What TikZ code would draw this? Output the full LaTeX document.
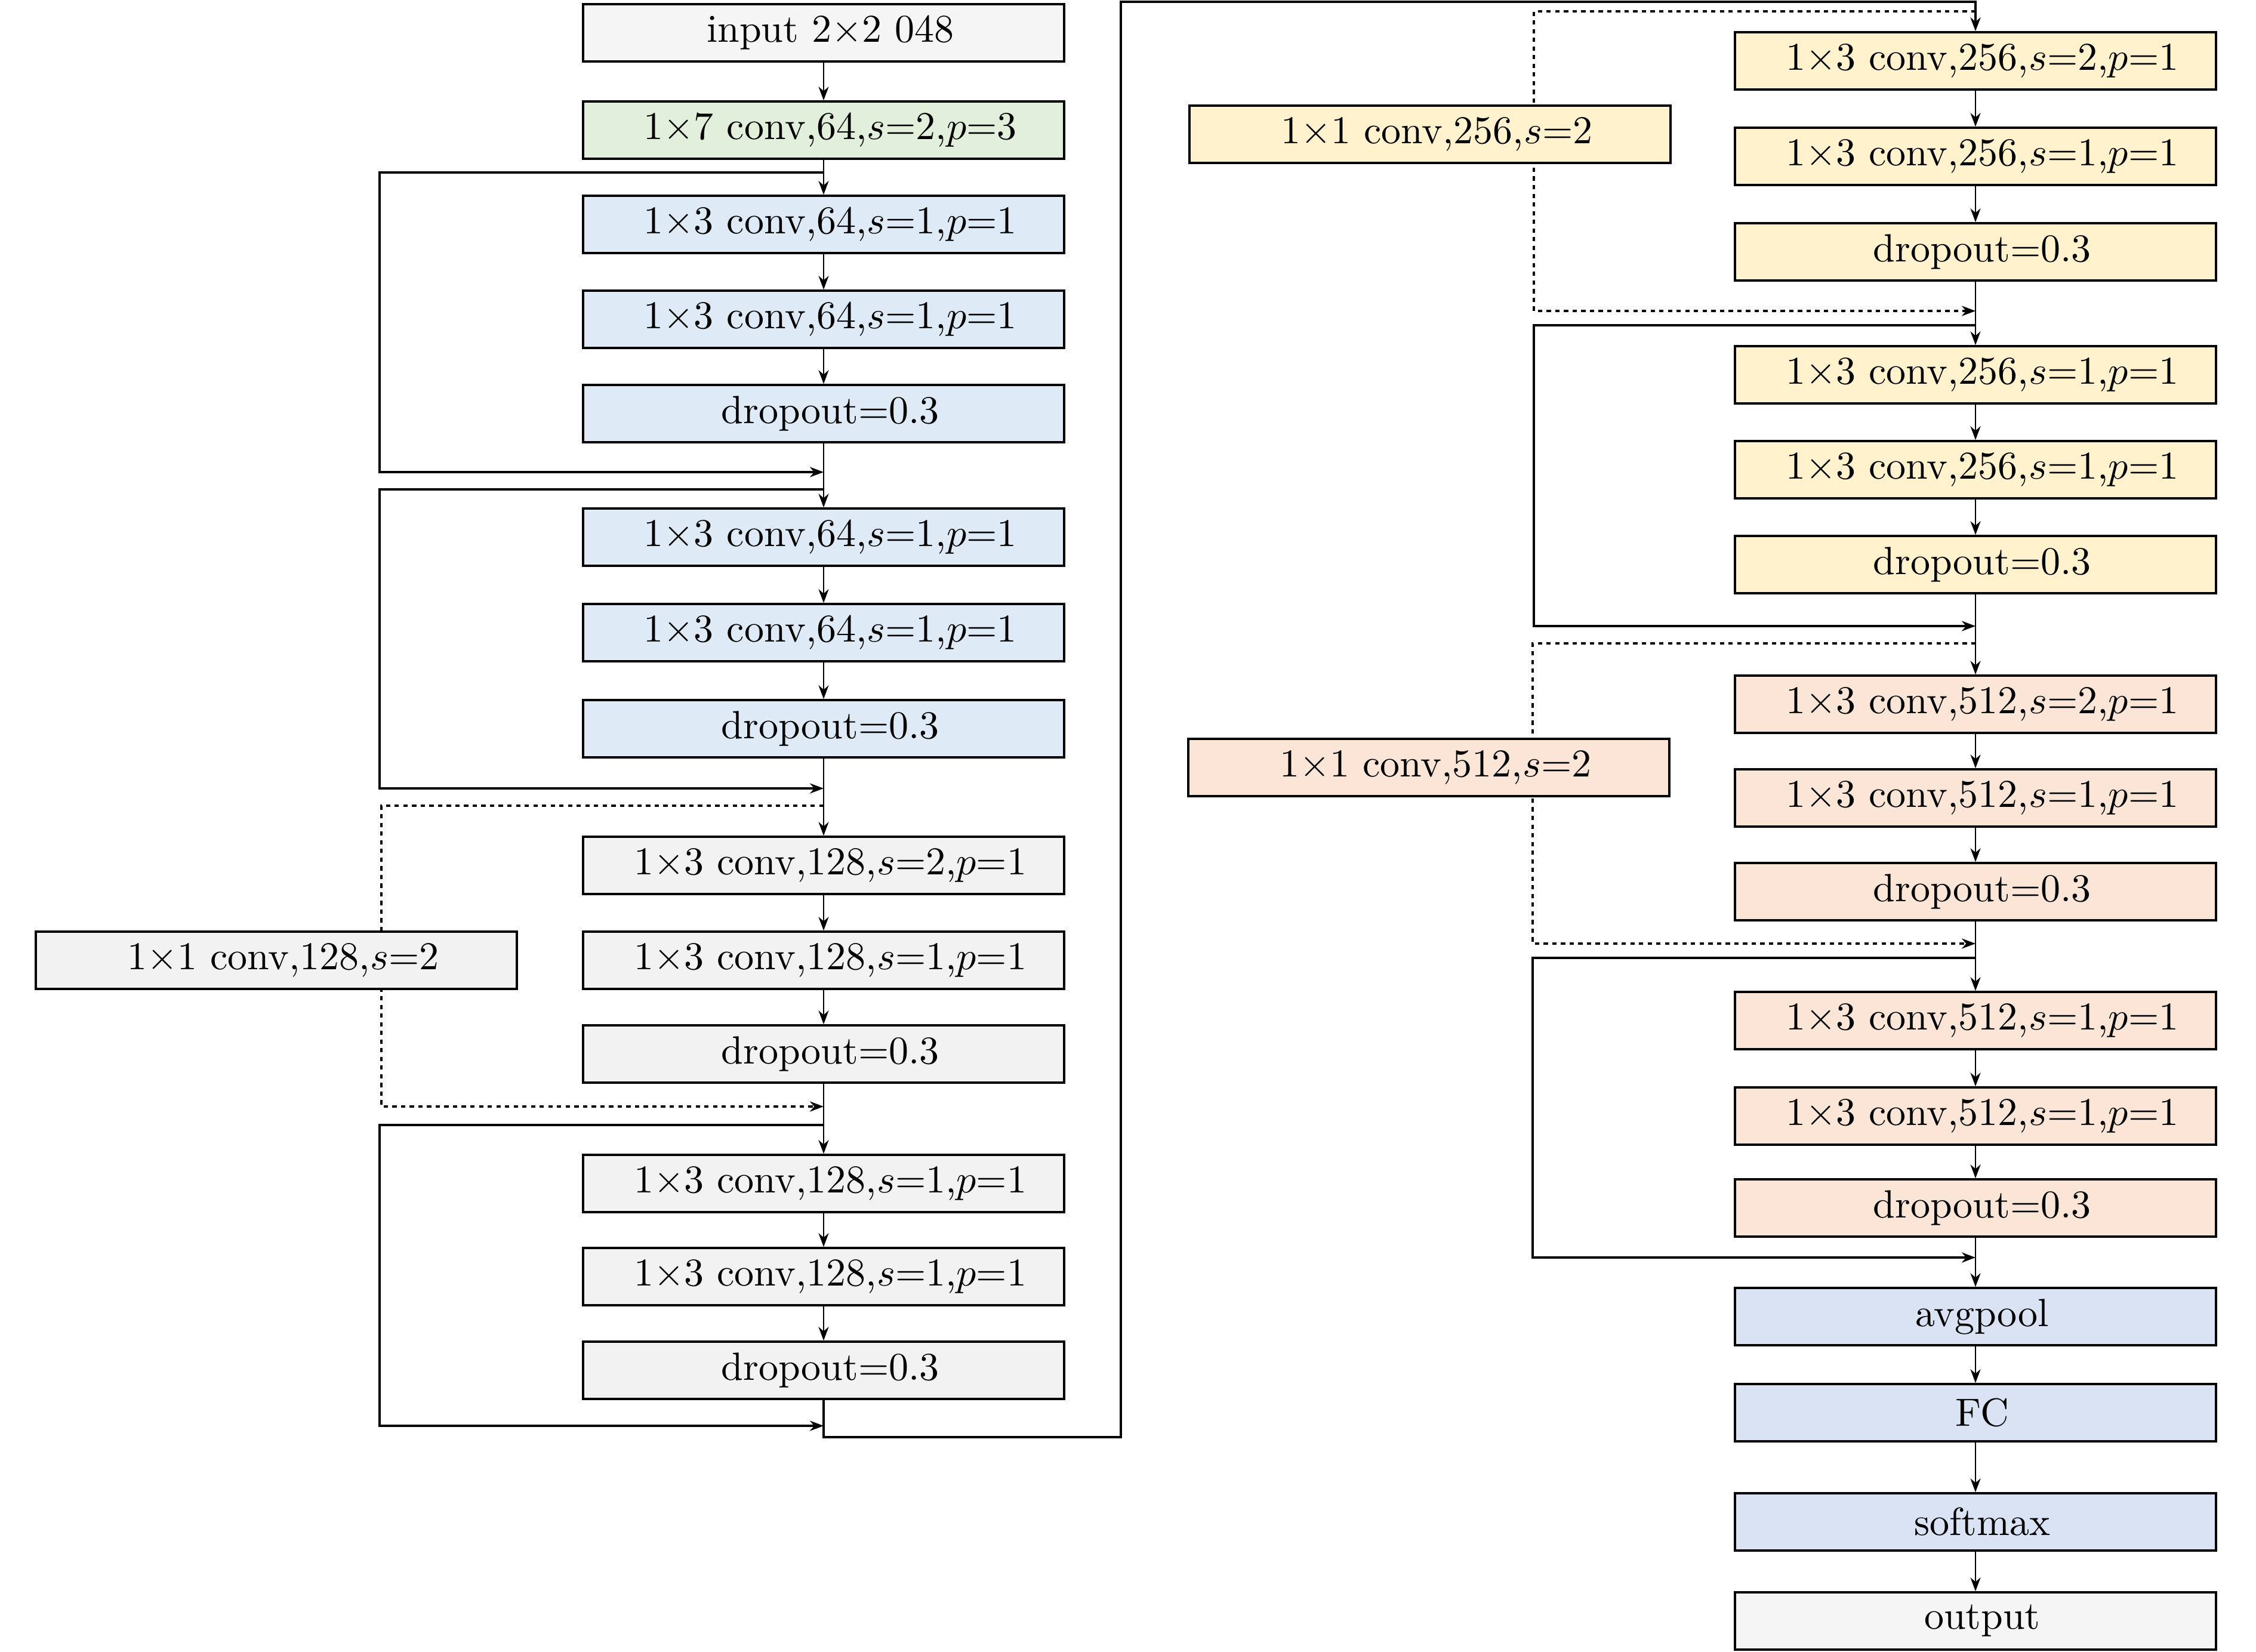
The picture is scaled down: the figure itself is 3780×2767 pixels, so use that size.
\documentclass[tikz,border=0pt]{standalone}
\usetikzlibrary{arrows.meta,backgrounds}
\definecolor{cin}{RGB}{245,245,245}
\definecolor{cgreen}{RGB}{226,239,218}
\definecolor{cblue}{RGB}{222,235,247}
\definecolor{cgray}{RGB}{242,242,242}
\definecolor{cyellow}{RGB}{255,242,204}
\definecolor{cpeach}{RGB}{251,229,214}
\definecolor{chead}{RGB}{218,227,243}
\begin{document}
\begin{tikzpicture}[x=0.1515pt,y=-0.1515pt,
  box/.style={draw=black, line width=0.6pt, minimum width=122.1pt, minimum height=14.5pt, inner sep=0pt,
              execute at begin node={\hspace*{3.4pt}}},
  tip/.style={-{Stealth[length=3.5pt,width=2.6pt]}},
  mainarr/.style={tip, line width=0.35pt},
  skipln/.style={tip, line width=0.5pt},
  shortln/.style={tip, line width=0.5pt, dash pattern=on 1.1pt off 1.1pt},
  linkln/.style={tip, line width=0.7pt}]
\useasboundingbox (0,0) rectangle (3780,2767);

% left column
\node[box,fill=cin] (in) at (1380,55) {input 2$\times$2 048};
\node[box,fill=cgreen] (c7) at (1380,218) {1$\times$7 conv,64,$s$=2,$p$=3};
\node[box,fill=cblue] (A1) at (1380,376) {1$\times$3 conv,64,$s$=1,$p$=1};
\node[box,fill=cblue] (A2) at (1380,535) {1$\times$3 conv,64,$s$=1,$p$=1};
\node[box,fill=cblue] (A3) at (1380,693) {dropout=0.3};
\node[box,fill=cblue] (B1) at (1380,900) {1$\times$3 conv,64,$s$=1,$p$=1};
\node[box,fill=cblue] (B2) at (1380,1060) {1$\times$3 conv,64,$s$=1,$p$=1};
\node[box,fill=cblue] (B3) at (1380,1221) {dropout=0.3};
\node[box,fill=cgray] (C1) at (1380,1450) {1$\times$3 conv,128,$s$=2,$p$=1};
\node[box,fill=cgray] (C2) at (1380,1609) {1$\times$3 conv,128,$s$=1,$p$=1};
\node[box,fill=cgray] (C3) at (1380,1766) {dropout=0.3};
\node[box,fill=cgray] (Cs) at (463,1609) {1$\times$1 conv,128,$s$=2};
\node[box,fill=cgray] (D1) at (1380,1983) {1$\times$3 conv,128,$s$=1,$p$=1};
\node[box,fill=cgray] (D2) at (1380,2139) {1$\times$3 conv,128,$s$=1,$p$=1};
\node[box,fill=cgray] (D3) at (1380,2296) {dropout=0.3};

% right column
\node[box,fill=cyellow] (E1) at (3310,102) {1$\times$3 conv,256,$s$=2,$p$=1};
\node[box,fill=cyellow] (E2) at (3310,262) {1$\times$3 conv,256,$s$=1,$p$=1};
\node[box,fill=cyellow] (E3) at (3310,422) {dropout=0.3};
\node[box,fill=cyellow] (Es) at (2396,225) {1$\times$1 conv,256,$s$=2};
\node[box,fill=cyellow] (F1) at (3310,628) {1$\times$3 conv,256,$s$=1,$p$=1};
\node[box,fill=cyellow] (F2) at (3310,787) {1$\times$3 conv,256,$s$=1,$p$=1};
\node[box,fill=cyellow] (F3) at (3310,946) {dropout=0.3};
\node[box,fill=cpeach] (G1) at (3310,1180) {1$\times$3 conv,512,$s$=2,$p$=1};
\node[box,fill=cpeach] (G2) at (3310,1337) {1$\times$3 conv,512,$s$=1,$p$=1};
\node[box,fill=cpeach] (G3) at (3310,1494) {dropout=0.3};
\node[box,fill=cpeach] (Gs) at (2394,1286) {1$\times$1 conv,512,$s$=2};
\node[box,fill=cpeach] (H1) at (3310,1710) {1$\times$3 conv,512,$s$=1,$p$=1};
\node[box,fill=cpeach] (H2) at (3310,1870) {1$\times$3 conv,512,$s$=1,$p$=1};
\node[box,fill=cpeach] (H3) at (3310,2024) {dropout=0.3};
\node[box,fill=chead] (avg) at (3310,2206) {avgpool};
\node[box,fill=chead] (fc) at (3310,2367) {FC};
\node[box,fill=chead] (sm) at (3310,2550) {softmax};
\node[box,fill=cin] (out) at (3310,2716) {output};

% junction points
\coordinate (s1) at (1380,289);  \coordinate (m1) at (1380,791);
\coordinate (s2) at (1380,820);  \coordinate (m2) at (1380,1321);
\coordinate (s3) at (1380,1350); \coordinate (m3) at (1380,1854);
\coordinate (s4) at (1380,1885); \coordinate (m4) at (1380,2389);
\coordinate (b0) at (1380,2408); \coordinate (tc) at (1878,3);
\coordinate (s5) at (3310,19);   \coordinate (m5) at (3310,521);
\coordinate (s6) at (3310,545);  \coordinate (m6) at (3310,1049);
\coordinate (s7) at (3310,1078); \coordinate (m7) at (3310,1581);
\coordinate (s8) at (3310,1605); \coordinate (m8) at (3310,2107);

\begin{scope}[on background layer]
% main flow
\foreach \a/\b in {in/c7,c7/A1,A1/A2,A2/A3,A3/B1,B1/B2,B2/B3,B3/C1,C1/C2,C2/C3,C3/D1,D1/D2,D2/D3,
                   E1/E2,E2/E3,E3/F1,F1/F2,F2/F3,F3/G1,G1/G2,G2/G3,G3/H1,H1/H2,H2/H3,H3/avg,avg/fc,fc/sm,sm/out}
  \draw[mainarr] (\a) -- (\b);
% identity shortcuts
\draw[skipln] (s1) -- ++(-744,0) |- (m1);
\draw[skipln] (s2) -- ++(-744,0) |- (m2);
\draw[skipln] (s4) -- ++(-744,0) |- (m4);
\draw[skipln] (s6) -- ++(-740,0) |- (m6);
\draw[skipln] (s8) -- ++(-742,0) |- (m8);
% projection shortcuts
\draw[shortln] (s3) -- ++(-741,0) |- (m3);
\draw[shortln] (s5) -- ++(-740,0) |- (m5);
\draw[shortln] (s7) -- ++(-742,0) |- (m7);
% link between columns
\draw[linkln] (D3.south) -- (b0) -| (tc) -| (E1.north);
\end{scope}
\end{tikzpicture}
\end{document}
